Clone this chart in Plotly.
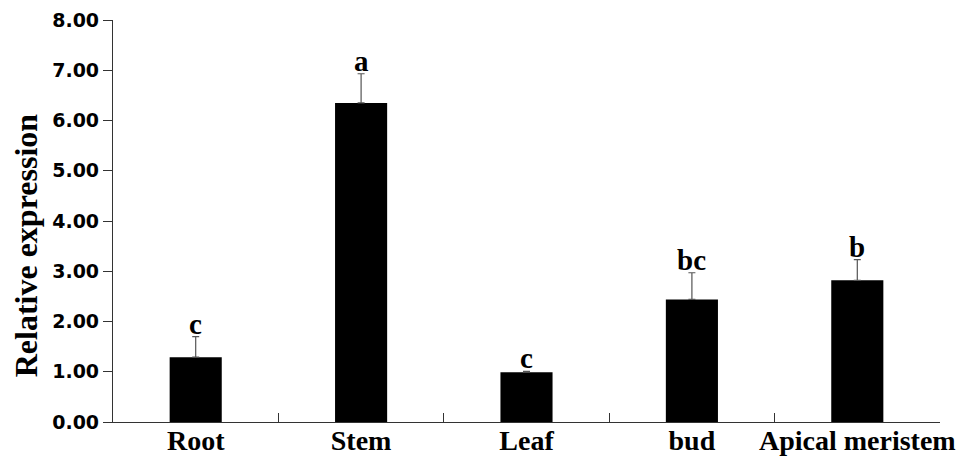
import plotly.graph_objects as go

# Tissue categories and expression data
tissues = ["Root", "Stem", "Leaf", "bud", "Apical meristem"]
expression = [1.29, 6.35, 0.99, 2.44, 2.82]
std_err = [0.41, 0.58, 0.02, 0.53, 0.41]
sig_letters = ["c", "a", "c", "bc", "b"]

y_ticks = [0, 1, 2, 3, 4, 5, 6, 7, 8]
y_tick_text = [f"{v:.2f}" for v in y_ticks]

fig = go.Figure()
fig.add_trace(go.Bar(
    x=tissues,
    y=expression,
    marker=dict(color="black", line=dict(width=0)),
    error_y=dict(type="data", array=std_err, arrayminus=[0] * len(std_err),
                 symmetric=False, color="#555555", thickness=1.2, width=3.5),
    width=0.315,
))

# Significance letters above error bars
for t, v, e, s in zip(tissues, expression, std_err, sig_letters):
    fig.add_annotation(
        x=t, y=v + e, text=f"<b>{s}</b>", showarrow=False,
        yanchor="bottom", yshift=-5,
        font=dict(family="Liberation Serif", size=29, color="black"),
    )

# Y-axis title
fig.add_annotation(
    x=-0.105, y=0.44, xref="paper", yref="paper",
    text="<b>Relative expression</b>", textangle=-90, showarrow=False,
    xanchor="center", yanchor="middle",
    font=dict(family="Liberation Serif", size=32, color="black"),
)

fig.update_layout(
    width=972, height=456,
    margin=dict(l=113, r=32, t=20, b=34),
    plot_bgcolor="white", paper_bgcolor="white",
    showlegend=False,
)
fig.update_xaxes(
    showline=True, linecolor="#333333", linewidth=1.2,
    ticks="inside", tickson="boundaries", ticklen=9, tickcolor="#333333",
    tickfont=dict(family="Liberation Serif", size=28, color="black"),
    tickprefix="<b>", ticksuffix="</b>", tickangle=0, automargin=False,
    ticklabelstandoff=-7,
    showgrid=False,
)
fig.update_yaxes(
    range=[0, 8], tickvals=y_ticks, ticktext=[f"<b>{t}</b>" for t in y_tick_text],
    showline=True, linecolor="#333333", linewidth=1.2,
    ticks="outside", ticklen=9, tickcolor="#333333", automargin=False,
    tickfont=dict(family="DejaVu Sans", size=19, color="black"),
    showgrid=False, zeroline=False,
)

fig.write_html("out.html")
